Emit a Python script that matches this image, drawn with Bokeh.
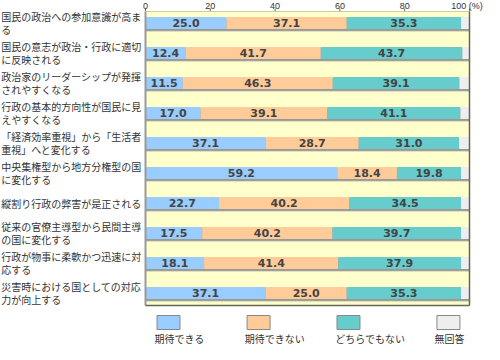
from bokeh.plotting import figure
from bokeh.models import Range1d, ColumnDataSource
from bokeh.embed import file_html
from bokeh.resources import INLINE
from bokeh.core.properties import value

categories = [
    "国民の政治への参加意識が高ま\nる",
    "国民の意志が政治・行政に適切\nに反映される",
    "政治家のリーダーシップが発揮\nされやすくなる",
    "行政の基本的方向性が国民に見\nえやすくなる",
    "「経済効率重視」から「生活者\n重視」へと変化する",
    "中央集権型から地方分権型の国\nに変化する",
    "縦割り行政の弊害が是正される",
    "従来の官僚主導型から民間主導\nの国に変化する",
    "行政が物事に柔軟かつ迅速に対\n応する",
    "災害時における国としての対応\n力が向上する",
]
expect = [25.0, 12.4, 11.5, 17.0, 37.1, 59.2, 22.7, 17.5, 18.1, 37.1]
not_expect = [37.1, 41.7, 46.3, 39.1, 28.7, 18.4, 40.2, 40.2, 41.4, 25.0]
neither = [35.3, 43.7, 39.1, 41.1, 31.0, 19.8, 34.5, 39.7, 37.9, 35.3]
no_answer = [2.6, 2.2, 3.1, 2.8, 3.2, 2.6, 2.6, 2.6, 2.6, 2.6]
series_names = ["期待できる", "期待できない", "どちらでもない", "無回答"]
colors = ["#99CCFF", "#FFCC99", "#66CCCC", "#EEEEEE"]
x_ticks = [0, 20, 40, 60, 80, 100]
x_tick_labels = ["0", "20", "40", "60", "80", "100 (%)"]

series = [expect, not_expect, neither, no_answer]
n = len(categories)
ys = list(range(n))

# layout constants (pixels -> data)
PX = 3.24            # px per x unit
ROW = 30.0           # px per row unit
W, H = 484, 344
LEFT_PX = 145        # frame x of value 0
x0 = -LEFT_PX / PX
x1 = x0 + W / PX
y_end = -22.5 / ROW          # figure top
y_start = y_end + H / ROW    # figure bottom
TOP = y_end + 11 / ROW       # top of plot area
BOT = y_end + 305 / ROW      # bottom of plot area

src = ColumnDataSource({"y": ys, **{name: vals for name, vals in zip(series_names, series)}})

BAR_H = 0.4
p = figure(width=W, height=H, output_backend="svg", toolbar_location=None,
           x_range=Range1d(x0, x1), y_range=Range1d(y_start, y_end),
           x_axis_type=None, y_axis_type=None,
           min_border_left=0, min_border_right=0, min_border_bottom=0, min_border_top=0)
p.background_fill_color = "white"
p.border_fill_color = "white"
p.outline_line_color = None
p.grid.visible = False

# top scale: ticks and labels at the x tick values
p.segment(x0=x_ticks, y0=TOP - 3 / ROW, x1=x_ticks, y1=TOP, line_color="#666666", line_width=1)
tick_src = ColumnDataSource({"x": x_ticks, "t": x_tick_labels,
                             "dx": [0.0] * (len(x_ticks) - 1) + [-2.5]})
p.text(x="x", y=y_end + 5 / ROW, text="t", x_offset="dx", source=tick_src,
       text_align="center", text_baseline="middle", text_font=value("Liberation Sans"),
       text_font_size="9px", text_color="#333333")

# plot area background
p.quad(left=0, right=100, top=TOP, bottom=BOT, color="#FFFFCC")

# shadow under each bar
totals = [sum(s[i] for s in series) for i in range(n)]
p.hbar(y=[y + 0.06 for y in ys], left=0, right=totals, height=BAR_H, color="#999999")

p.hbar_stack(series_names, y="y", height=BAR_H, color=colors, line_color=None, source=src)

# value labels
tx, ty, tt = [], [], []
for i in range(n):
    left = 0.0
    for k, s in enumerate(series):
        v = s[i]
        if k < 3:
            tx.append(left + v / 2)
            ty.append(ys[i])
            tt.append(f"{v:.1f}")
        left += v
p.text(x=tx, y=ty, text=tt, text_align="center", text_baseline="middle",
       text_font=value("DejaVu Sans"), text_font_style="bold",
       text_font_size="11px", text_color="#444444")

# borders of plot area
p.segment(x0=0, y0=TOP, x1=100, y1=TOP, line_color="#CCCCAA", line_width=1)
p.segment(x0=0, y0=TOP, x1=0, y1=BOT, line_color="#999999", line_width=2)
p.segment(x0=100, y0=TOP, x1=100, y1=BOT, line_color="#666655", line_width=1.5)
p.segment(x0=0, y0=BOT, x1=100, y1=BOT, line_color="#666655", line_width=1.5)

# category labels, one text per line
LINE = 13 / ROW
lx, ly, lt = [], [], []
for i, c in enumerate(categories):
    lines = c.split("\n")
    k = len(lines)
    for j, t in enumerate(lines):
        lx.append(x0 + 0.2)
        ly.append(ys[i] + (j - (k - 1) / 2) * LINE)
        lt.append(t)
p.text(x=lx, y=ly, text=lt, text_align="left", text_baseline="middle",
       text_font=value("Noto Sans CJK JP"), text_font_size="10px", text_color="#333333")

# legend
box_x = [7.1, 34.9, 62.65, 93.5]
lab_x = [2.8, 30.6, 58.6, 89.2]
box_y = y_end + 322 / ROW
lab_y = y_end + 337.5 / ROW
p.rect(x=box_x, y=box_y, width=23 / PX, height=14 / ROW, fill_color=colors,
       line_color="#888888", line_width=1)
p.text(x=lab_x, y=lab_y, text=series_names, text_align="left", text_baseline="middle",
       text_font=value("Noto Sans CJK JP"), text_font_size="10px", text_color="#333333")

open("out.html", "w").write(file_html(p, INLINE))
